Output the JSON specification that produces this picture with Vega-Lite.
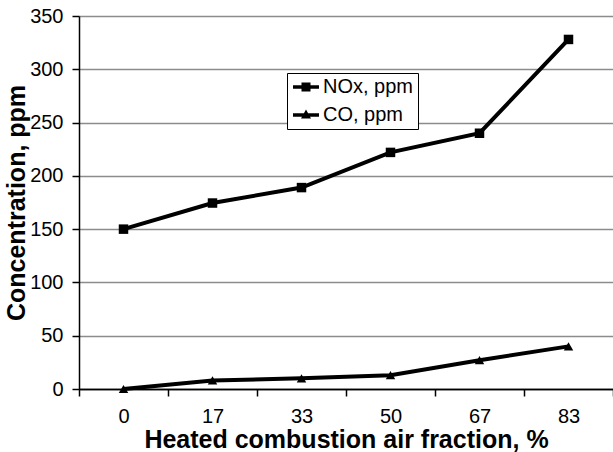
{
  "$schema": "https://vega.github.io/schema/vega-lite/v6.json",
  "width": 534,
  "height": 373,
  "autosize": {"type": "none"},
  "padding": {"left": 79, "top": 16, "right": 0, "bottom": 63},
  "background": "white",
  "config": {"view": {"stroke": null}, "font": "Liberation Sans"},
  "data": {
    "values": [
      {"fraction": 0, "series": "NOx, ppm", "ppm": 150},
      {"fraction": 17, "series": "NOx, ppm", "ppm": 174.5},
      {"fraction": 33, "series": "NOx, ppm", "ppm": 189},
      {"fraction": 50, "series": "NOx, ppm", "ppm": 222},
      {"fraction": 67, "series": "NOx, ppm", "ppm": 240},
      {"fraction": 83, "series": "NOx, ppm", "ppm": 328},
      {"fraction": 0, "series": "CO, ppm", "ppm": 0},
      {"fraction": 17, "series": "CO, ppm", "ppm": 8},
      {"fraction": 33, "series": "CO, ppm", "ppm": 10},
      {"fraction": 50, "series": "CO, ppm", "ppm": 13},
      {"fraction": 67, "series": "CO, ppm", "ppm": 27},
      {"fraction": 83, "series": "CO, ppm", "ppm": 40}
    ]
  },
  "encoding": {
    "x": {
      "field": "fraction",
      "type": "ordinal",
      "scale": {"type": "band", "paddingInner": 0, "paddingOuter": 0},
      "axis": {
        "title": "Heated combustion air fraction, %",
        "titleFontSize": 25,
        "titleFontWeight": "bold",
        "titleColor": "black",
        "titlePadding": 1,
        "labelAngle": 0,
        "labelFontSize": 20,
        "labelColor": "black",
        "labelPadding": 10,
        "tickBand": "extent",
        "tickSize": 7,
        "tickColor": "black",
        "tickWidth": 1.5,
        "domainColor": "black",
        "domainWidth": 1.5,
        "grid": false
      }
    },
    "y": {
      "field": "ppm",
      "type": "quantitative",
      "scale": {"domain": [0, 350], "nice": false},
      "axis": {
        "title": "Concentration, ppm",
        "titleFontSize": 25,
        "titleFontWeight": "bold",
        "titleColor": "black",
        "titlePadding": 0,
        "values": [0, 50, 100, 150, 200, 250, 300, 350],
        "labelFontSize": 20,
        "labelColor": "black",
        "labelPadding": 9,
        "tickSize": 7,
        "tickColor": "black",
        "tickWidth": 1.5,
        "domainColor": "black",
        "domainWidth": 1.5,
        "grid": true,
        "gridColor": {"condition": {"test": "datum.value === 0", "value": "black"}, "value": "#8c8c8c"},
        "gridWidth": 1.5,
        "gridOpacity": 1
      }
    }
  },
  "layer": [
    {
      "mark": {"type": "line", "color": "black", "strokeWidth": 4},
      "encoding": {"detail": {"field": "series"}}
    },
    {
      "mark": {"type": "point", "filled": true, "color": "black", "size": 90, "opacity": 1},
      "encoding": {
        "shape": {
          "field": "series",
          "type": "nominal",
          "scale": {"domain": ["NOx, ppm", "CO, ppm"], "range": ["square", "triangle-up"]},
          "legend": null
        }
      }
    },
    {
      "transform": [{"filter": "false"}],
      "mark": {"type": "point", "filled": true, "color": "black", "opacity": 1},
      "encoding": {
        "shape": {
          "field": "series",
          "type": "nominal",
          "scale": {
            "domain": ["NOx, ppm", "CO, ppm"],
            "range": ["M-2.6,-0.35H2.6V0.35H-2.6ZM-0.9,-0.9H0.9V0.9H-0.9Z", "M-2.6,-0.35H2.6V0.35H-2.6ZM0,-1.1L1,0.7H-1Z"]
          },
          "legend": {
            "title": null,
            "orient": "none",
            "legendX": 208,
            "legendY": 57,
            "direction": "vertical",
            "strokeColor": "black",
            "fillColor": "white",
            "padding": 4,
            "rowPadding": 8,
            "labelFontSize": 20,
            "labelColor": "black",
            "symbolSize": 100,
            "symbolOffset": 5,
            "labelOffset": 7,
            "symbolFillColor": "black",
            "symbolOpacity": 1
          }
        }
      }
    }
  ],
  "resolve": {"scale": {"shape": "independent"}}
}
